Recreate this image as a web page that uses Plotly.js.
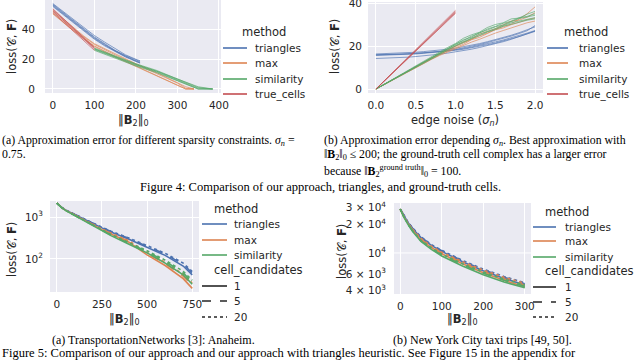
<!DOCTYPE html>
<html>
<head>
<meta charset="utf-8">
<script src="https://cdn.plot.ly/plotly-3.0.1.min.js"></script>
<style>
  html, body { margin: 0; padding: 0; background: white; }
  #chart { width: 640px; height: 362px; }
</style>
</head>
<body>
<div id="chart"></div>
<script>
// ---- data ----

// (a) loss vs ||B2||0, sigma_n = 0.75
const xTriA = [0, 25, 50, 75, 100, 125, 150, 175, 200, 210];
const triA = [
    [57, 51.5, 46, 40.5, 35, 30.5, 26, 22.5, 19.5, 18.5],
    [56, 50.5, 45, 39.5, 34, 29.5, 25.5, 22, 19, 18],
    [55.5, 50, 44.5, 39, 33.5, 29, 25, 21.5, 18.5, 17.5],
    [57.5, 52, 46.5, 41, 36, 31.5, 27, 23, 20, 19],
    [56.5, 51, 45.5, 40, 34.5, 30, 25.5, 22, 18.5, 17.5]
];
const xMaxA = [0, 25, 50, 75, 100, 150, 200, 250, 300, 320, 340];
const maxA = [
    [52, 46, 40.5, 35, 30, 23, 16.5, 10.5, 4, 0.5, 0],
    [51, 45, 39.5, 34, 29, 22, 15.5, 9.5, 3, 0, 0],
    [53, 47, 41, 35.5, 30.5, 23.5, 17, 11, 4.5, 1.5, 0],
    [50.5, 44.5, 39, 33.5, 28.5, 21.5, 15, 9, 2.5, 0, 0]
];
const xSimA = [100, 150, 200, 250, 300, 325, 350, 385];
const simA = [
    [27, 21.5, 16.5, 12, 6.5, 3.5, 0.5, 0],
    [26.5, 21, 16, 11.5, 6, 3, 0, 0],
    [27.5, 22, 17, 12.5, 7, 4, 1, 0],
    [26, 20.5, 15.5, 11, 5.5, 2.5, 0, 0],
    [27, 21.5, 16.5, 12, 7, 4.5, 1.5, 0]
];
const xTrueA = [0, 25, 50, 75, 100];
const trueA = [
    [53.5, 47, 40.5, 34, 27.5],
    [52.5, 46, 39.5, 33, 27],
    [51.5, 45, 38.5, 32, 26],
    [54, 47.5, 41, 34.5, 28]
];

// (b) loss vs edge noise
const noiseB = [0, 0.1, 0.2, 0.3, 0.4, 0.5, 0.6, 0.7, 0.8, 0.9, 1.0,
                1.1, 1.2, 1.3, 1.4, 1.5, 1.6, 1.7, 1.8, 1.9, 2.0];
const noiseTrueB = [0, 0.1, 0.2, 0.3, 0.4, 0.5, 0.6, 0.7, 0.8, 0.9, 1.0];
const triB = [
    [16.0, 16.0, 16.1, 16.2, 16.4, 16.6, 16.8, 17.1, 17.4, 17.8, 18.2, 18.8, 19.5, 20.2, 21.0, 21.9, 22.8, 23.8, 24.9, 26.0, 27.2],
    [15.6, 15.7, 15.8, 15.9, 16.1, 16.3, 16.6, 16.9, 17.2, 17.6, 18.0, 18.5, 19.1, 19.8, 20.6, 21.4, 22.3, 23.3, 24.4, 25.6, 26.8],
    [16.3, 16.4, 16.5, 16.7, 16.9, 17.1, 17.4, 17.7, 18.1, 18.5, 19.0, 19.6, 20.3, 21.1, 22.0, 22.9, 23.9, 25.0, 26.2, 27.5, 28.9],
    [14.2, 14.3, 14.4, 14.6, 14.8, 15.1, 15.4, 15.8, 16.2, 16.7, 17.2, 17.8, 18.5, 19.3, 20.1, 21.0, 22.0, 23.1, 24.3, 25.6, 27.0],
    [15.8, 15.9, 16.0, 16.1, 16.3, 16.5, 16.8, 17.1, 17.5, 17.9, 18.4, 19.1, 19.9, 20.7, 21.6, 22.5, 23.5, 24.6, 25.8, 27.1, 29.5]
];
const maxB = [
    [0, 2.1, 4.2, 6.3, 8.4, 10.5, 12.5, 14.4, 16.2, 18.0, 19.6, 21.5, 23.0, 24.8, 26.0, 27.5, 28.4, 29.9, 31.0, 32.2, 33.0],
    [0, 2.0, 4.1, 6.1, 8.2, 10.2, 12.3, 14.1, 16.0, 17.6, 19.2, 20.8, 22.9, 24.0, 25.8, 27.8, 29.0, 30.2, 32.5, 35.0, 38.2],
    [0, 2.1, 4.1, 6.2, 8.3, 10.4, 12.4, 14.5, 16.3, 18.2, 20.1, 21.9, 23.3, 25.5, 26.8, 28.0, 29.9, 31.6, 32.0, 33.4, 35.5],
    [0, 2.0, 4.0, 6.0, 8.1, 10.1, 12.0, 13.8, 15.6, 17.2, 18.8, 20.3, 21.8, 23.1, 24.6, 26.0, 27.2, 28.5, 29.6, 30.8, 31.6]
];
const simB = [
    [0, 2.1, 4.2, 6.3, 8.4, 10.6, 12.7, 14.8, 16.9, 18.9, 20.8, 22.5, 24.6, 26.0, 27.9, 29.1, 30.6, 31.5, 33.2, 33.8, 35.0],
    [0, 2.2, 4.3, 6.5, 8.6, 10.8, 12.9, 15.1, 17.2, 19.3, 21.2, 23.6, 25.2, 26.4, 28.6, 30.0, 30.8, 32.6, 33.0, 34.8, 36.1],
    [0, 2.1, 4.1, 6.2, 8.3, 10.4, 12.5, 14.5, 16.5, 18.5, 20.3, 22.0, 23.6, 25.4, 26.7, 28.2, 29.5, 30.8, 31.6, 32.4, 33.2],
    [0, 2.1, 4.2, 6.4, 8.5, 10.6, 12.8, 14.9, 17.0, 19.1, 21.0, 22.9, 24.1, 26.2, 27.4, 28.9, 29.8, 31.4, 32.8, 33.5, 34.3],
    [0, 2.0, 4.1, 6.1, 8.2, 10.3, 12.3, 14.3, 16.3, 18.2, 20.0, 21.6, 23.4, 24.8, 26.5, 27.6, 29.2, 30.1, 31.2, 32.0, 32.6]
];
const trueB = [
    [0, 3.6, 7.2, 10.9, 14.4, 18.0, 21.6, 25.3, 28.8, 32.4, 36.0],
    [0, 3.5, 7.0, 10.5, 14.1, 17.6, 21.1, 24.6, 28.1, 31.7, 35.2],
    [0, 3.7, 7.3, 11.0, 14.7, 18.3, 22.0, 25.6, 29.3, 33.0, 36.6],
    [0, 3.5, 7.1, 10.7, 14.2, 17.8, 21.3, 24.9, 28.4, 32.0, 35.5]
];

// Fig 5 (a) Anaheim, log loss vs ||B2||0, one series per cell_candidates (1, 5, 20)
const xC = [0, 25, 50, 100, 150, 200, 250, 300, 400, 500, 600, 700, 750];
const triC = [
    [2150, 1720, 1460, 1130, 890, 700, 550, 440, 295, 193, 122, 68, 42],
    [2150, 1720, 1465, 1138, 900, 712, 563, 452, 307, 203, 131, 75, 46],
    [2150, 1722, 1468, 1142, 906, 720, 571, 460, 315, 210, 137, 80, 50]
];
const maxC = [
    [2150, 1700, 1435, 1095, 845, 650, 500, 395, 250, 125, 70, 34, 20],
    [2150, 1702, 1440, 1102, 855, 662, 512, 407, 262, 135, 78, 39, 24],
    [2150, 1704, 1443, 1106, 861, 669, 520, 415, 270, 142, 84, 43, 27]
];
const simC = [
    [2150, 1690, 1420, 1080, 825, 625, 455, 360, 225, 140, 80, 42, 25],
    [2150, 1693, 1425, 1087, 835, 638, 470, 373, 238, 150, 88, 47, 28],
    [2150, 1696, 1428, 1092, 842, 646, 478, 382, 246, 157, 94, 51, 31]
];

// Fig 5 (b) NYC taxi
const xD = [0, 10, 20, 30, 50, 75, 100, 150, 200, 250, 300];
const triD = [
    [29000, 24000, 20500, 18000, 14500, 12000, 10400, 8100, 6500, 5400, 4600],
    [29000, 24100, 20700, 18200, 14700, 12150, 10550, 8250, 6650, 5550, 4750],
    [29000, 24100, 20800, 18300, 14800, 12250, 10650, 8350, 6750, 5650, 4850]
];
const maxD = [
    [29000, 23500, 20000, 17300, 13800, 11400, 9800, 7700, 6200, 5150, 4400],
    [29000, 23600, 20100, 17500, 14000, 11600, 10000, 7900, 6400, 5350, 4600],
    [29000, 23700, 20300, 17700, 14200, 11800, 10200, 8100, 6600, 5550, 4800]
];
const simD = [
    [29000, 23200, 19500, 16800, 13200, 10900, 9300, 7300, 5900, 4950, 4300],
    [29000, 23300, 19700, 17000, 13400, 11100, 9500, 7500, 6100, 5150, 4450],
    [29000, 23400, 19800, 17100, 13600, 11300, 9700, 7700, 6300, 5300, 4600]
];

const methods = ['triangles', 'max', 'similarity', 'true_cells'];
const cellCandidates = ['1', '5', '20'];
const tickD = [4000, 6000, 10000, 20000, 30000];
const tickDText = ['4 × 10<sup>3</sup>', '6 × 10<sup>3</sup>', '10<sup>4</sup>', '2 × 10<sup>4</sup>', '3 × 10<sup>4</sup>'];

// ---- styling ----
const W = 640, H = 362;
const px = v => v / W;
const py = v => 1 - v / H;
const colors = {triangles: '#4C72B0', max: '#DD8452', similarity: '#55A868', true_cells: '#C44E52'};
const dashes = {'1': 'solid', '5': 'dash', '20': 'dot'};
const sans = 'DejaVu Sans';
const serif = 'Liberation Serif';
const ink = '#262626';

// thin translucent lines, one per run
function runTraces(xs, runs, method, xa, ya) {
    return runs.map(ys => ({
        x: xs, y: ys, xaxis: xa, yaxis: ya,
        type: 'scatter', mode: 'lines', hoverinfo: 'skip',
        opacity: 0.65,
        line: {color: colors[method], width: 1}
    }));
}

// one line per cell_candidates value
function ccTraces(xs, runs, method, xa, ya) {
    return runs.map((ys, i) => ({
        x: xs, y: ys, xaxis: xa, yaxis: ya,
        type: 'scatter', mode: 'lines', hoverinfo: 'skip',
        line: {color: colors[method], width: 1.6, dash: dashes[cellCandidates[i]]}
    }));
}

const traces = [].concat(
    runTraces(xTriA, triA, 'triangles', 'x', 'y'),
    runTraces(xMaxA, maxA, 'max', 'x', 'y'),
    runTraces(xSimA, simA, 'similarity', 'x', 'y'),
    runTraces(xTrueA, trueA, 'true_cells', 'x', 'y'),
    runTraces(noiseB, triB, 'triangles', 'x2', 'y2'),
    runTraces(noiseB, maxB, 'max', 'x2', 'y2'),
    runTraces(noiseB, simB, 'similarity', 'x2', 'y2'),
    runTraces(noiseTrueB, trueB, 'true_cells', 'x2', 'y2'),
    ccTraces(xC, triC, 'triangles', 'x3', 'y3'),
    ccTraces(xC, maxC, 'max', 'x3', 'y3'),
    ccTraces(xC, simC, 'similarity', 'x3', 'y3'),
    ccTraces(xD, triD, 'triangles', 'x4', 'y4'),
    ccTraces(xD, maxD, 'max', 'x4', 'y4'),
    ccTraces(xD, simD, 'similarity', 'x4', 'y4')
);

function axis(opts) {
    return Object.assign({
        showgrid: true, gridcolor: 'white', gridwidth: 1,
        zeroline: false, showline: false, ticks: '',
        ticklabeloverflow: 'allow',
        tickfont: {family: sans, size: 10.5, color: ink},
        fixedrange: true
    }, opts);
}

const annotations = [];
const shapes = [];

function text(s, x, y, size, family, anchor, angle) {
    annotations.push({
        text: s, xref: 'paper', yref: 'paper', x: px(x), y: py(y),
        xanchor: anchor || 'center', yanchor: 'middle', showarrow: false,
        textangle: angle || 0,
        font: {family: family || sans, size: size, color: family === serif ? 'black' : ink}
    });
}

// legend drawn by hand so the row spacing matches seaborn
function legend(titleX, lineX0, lineX1, textX, rows) {
    rows.forEach(r => {
        if (r.title) {
            text(r.title, titleX, r.y, 11.5, sans, r.center ? 'center' : 'left');
            return;
        }
        shapes.push({
            type: 'line', xref: 'paper', yref: 'paper',
            x0: px(lineX0), x1: px(lineX1), y0: py(r.y), y1: py(r.y),
            line: {color: r.color, width: 1.6, dash: r.dash || 'solid'}
        });
        text(r.label, textX, r.y, 10.5, sans, 'left');
    });
}

legend(264, 223, 247, 253, [
    {title: 'method', y: 32, center: true},
    {label: 'triangles', color: colors.triangles, y: 48},
    {label: 'max', color: colors.max, y: 63},
    {label: 'similarity', color: colors.similarity, y: 79},
    {label: 'true_cells', color: colors.true_cells, y: 94}
]);
legend(586, 547, 568, 577, [
    {title: 'method', y: 32, center: true},
    {label: 'triangles', color: colors.triangles, y: 48},
    {label: 'max', color: colors.max, y: 63},
    {label: 'similarity', color: colors.similarity, y: 79},
    {label: 'true_cells', color: colors.true_cells, y: 94}
]);
legend(212, 202, 227, 232, [
    {title: 'method', y: 209},
    {label: 'triangles', color: colors.triangles, y: 224},
    {label: 'max', color: colors.max, y: 240},
    {label: 'similarity', color: colors.similarity, y: 255},
    {title: 'cell_candidates', y: 270},
    {label: '1', color: ink, y: 286},
    {label: '5', color: ink, dash: 'dash', y: 301},
    {label: '20', color: ink, dash: 'dot', y: 317}
]);
legend(543, 533, 556, 563, [
    {title: 'method', y: 212},
    {label: 'triangles', color: colors.triangles, y: 227},
    {label: 'max', color: colors.max, y: 241},
    {label: 'similarity', color: colors.similarity, y: 257},
    {title: 'cell_candidates', y: 271},
    {label: '1', color: ink, y: 287},
    {label: '5', color: ink, dash: 'dash', y: 302},
    {label: '20', color: ink, dash: 'dot', y: 317}
]);

// axis titles
const lossTitle = 'loss(𝒞, <b>F</b>)';
const b2Title = '‖<b>B</b><sub>2</sub>‖<sub>0</sub>';
text(lossTitle, 12, 47, 11.5, sans, 'center', -90);
text(lossTitle, 335, 47, 11.5, sans, 'center', -90);
text(lossTitle, 12, 250, 11.5, sans, 'center', -90);
text(lossTitle, 342, 252, 11.5, sans, 'center', -90);
text(b2Title, 133, 121, 11.5);
text('edge noise (<i>σ<sub>n</sub></i>)', 455, 121, 11.5);
text(b2Title, 124, 319, 11.5);
text(b2Title, 462, 319, 11.5);

// captions
text('(a) Approximation error for different sparsity constraints. <i>σ<sub>n</sub></i> =', 0, 140, 11.8, serif, 'left');
text('0.75.', 0, 154, 11.8, serif, 'left');
text('(b) Approximation error depending <i>σ<sub>n</sub></i>. Best approximation with', 322, 140, 11.8, serif, 'left');
text('‖<b>B</b><sub>2</sub>‖<sub>0</sub> ≤ 200; the ground-truth cell complex has a larger error', 322, 154, 11.8, serif, 'left');
text('because ‖<b>B</b><sub>2</sub><sup>ground truth</sup>‖<sub>0</sub> = 100.', 322, 171, 11.8, serif, 'left');
text('Figure 4: Comparison of our approach, triangles, and ground-truth cells.', 320, 187, 12.5, serif, 'center');
text('(a) TransportationNetworks [3]: Anaheim.', 153, 340, 12, serif, 'center');
text('(b) New York City taxi trips [49, 50].', 482, 340, 12, serif, 'center');
text('Figure 5: Comparison of our approach and our approach with triangles heuristic. See Figure 15 in the appendix for', 0, 353, 12.5, serif, 'left');

// only the 10^4 line is a real grid line in panel (b) of Fig 5
shapes.push({
    type: 'line', xref: 'x4 domain', yref: 'y4', x0: 0, x1: 1, y0: 10000, y1: 10000,
    line: {color: 'white', width: 1}, layer: 'below'
});

const layout = {
    width: W, height: H,
    margin: {l: 0, r: 0, t: 0, b: 0},
    paper_bgcolor: 'white', plot_bgcolor: '#EAEAF2',
    showlegend: false,
    font: {family: sans, color: ink},
    xaxis: axis({domain: [px(45), px(221)], range: [-19, 405], dtick: 100, anchor: 'y', ticklabelstandoff: 4}),
    yaxis: axis({domain: [py(93), py(0)], range: [-2.7, 59.9], dtick: 20, anchor: 'x', ticklabelstandoff: 9}),
    xaxis2: axis({domain: [px(368), px(543)], range: [-0.1, 2.1], dtick: 0.5, tickformat: '.1f', anchor: 'y2', ticklabelstandoff: 4}),
    yaxis2: axis({domain: [py(93), py(2)], range: [-1.86, 40.47], dtick: 20, anchor: 'x2', ticklabelstandoff: 5}),
    xaxis3: axis({domain: [px(50), px(199)], range: [-37.5, 787.5], dtick: 250, anchor: 'y3', ticklabelstandoff: 4}),
    yaxis3: axis({domain: [py(292), py(201)], type: 'log', range: [1.214, 3.381], anchor: 'x3',
                  tickvals: [100, 1000], ticktext: ['10<sup>2</sup>', '10<sup>3</sup>'], ticklabelstandoff: 6}),
    xaxis4: axis({domain: [px(394), px(531)], range: [-15, 315], dtick: 100, anchor: 'y4', ticklabelstandoff: 4}),
    yaxis4: axis({domain: [py(294), py(203)], type: 'log', range: [3.568, 4.526], anchor: 'x4', showgrid: false,
                  tickvals: tickD, ticktext: tickDText, ticklabelstandoff: 7}),
    annotations: annotations,
    shapes: shapes
};

Plotly.newPlot('chart', traces, layout, {displayModeBar: false, staticPlot: true});
</script>
</body>
</html>
